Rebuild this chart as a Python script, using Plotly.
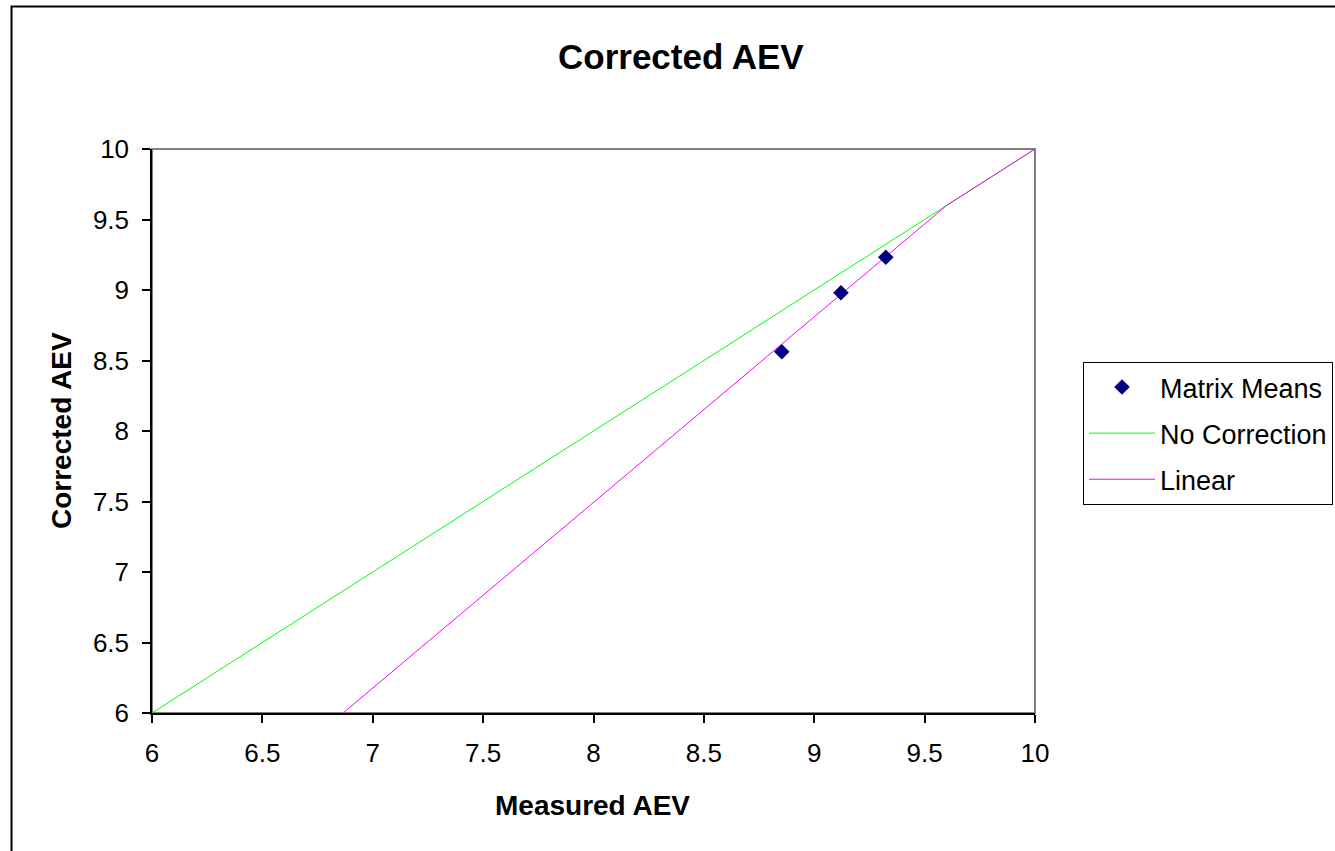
import plotly.graph_objects as go

# Data
means_x = [8.853, 9.121, 9.324]
means_y = [8.562, 8.981, 9.232]
nocorr_x = [6, 10]
nocorr_y = [6, 10]
linear_x = [6.82, 9.6, 10]
linear_y = [5.94, 9.6, 10]
tick_vals = [6, 6.5, 7, 7.5, 8, 8.5, 9, 9.5, 10]
tick_text = ["6", "6.5", "7", "7.5", "8", "8.5", "9", "9.5", "10"]

W, H = 1335, 851
px0, px1 = 152, 1035
py0, py1 = 149, 713

fig = go.Figure()
fig.add_trace(go.Scatter(x=nocorr_x, y=nocorr_y, mode="lines", name="No Correction",
                         line=dict(color="#00FF00", width=1), legendrank=2,
                         legendgroup="b"))
fig.add_trace(go.Scatter(x=linear_x, y=linear_y, mode="lines", name="Linear",
                         line=dict(color="#FF00FF", width=1), legendrank=3,
                         legendgroup="c"))
fig.add_trace(go.Scatter(x=means_x, y=means_y, mode="markers", name="Matrix Means",
                         marker=dict(symbol="diamond", color="#000080", size=12),
                         legendrank=1, legendgroup="a"))

font_family = "Liberation Sans, Arial, sans-serif"
axis_common = dict(
    range=[6, 10], tickvals=tick_vals, ticktext=tick_text,
    showgrid=False, zeroline=False, showline=True, linecolor="black", linewidth=1.5,
    ticks="outside", ticklen=8, tickcolor="black", tickwidth=1.5, automargin=False,
    tickfont=dict(family=font_family, size=26, color="black"),
)
fig.update_layout(
    width=W, height=H, autosize=False,
    margin=dict(l=0, r=0, t=0, b=0, pad=0, autoexpand=False),
    paper_bgcolor="white", plot_bgcolor="white",
    font=dict(family=font_family, color="black"),
    xaxis=dict(domain=[px0 / W, px1 / W], ticklabelstandoff=8, **axis_common),
    yaxis=dict(domain=[1 - py1 / H, 1 - py0 / H], ticklabelstandoff=8, **axis_common),
    showlegend=True,
    legend=dict(x=1083 / W, y=1 - 362 / H, xanchor="left", yanchor="top",
                bgcolor="white", bordercolor="black", borderwidth=1,
                font=dict(family=font_family, size=27, color="black"),
                itemwidth=66, tracegroupgap=8, entrywidth=200),
    shapes=[
        dict(type="rect", xref="x domain", yref="y domain", x0=0, x1=1, y0=0, y1=1,
             line=dict(color="#808080", width=2), layer="below"),
        dict(type="rect", xref="paper", yref="paper", x0=11.5 / W, x1=1351 / W,
             y0=-5 / H, y1=1 - 6.5 / H, line=dict(color="black", width=2)),
    ],
    annotations=[
        dict(text="<b>Corrected AEV</b>", x=681 / W, y=1 - 57 / H, xref="paper", yref="paper",
             showarrow=False, font=dict(size=35, family=font_family), xanchor="center", yanchor="middle"),
        dict(text="<b>Measured AEV</b>", x=592 / W, y=1 - 805 / H, xref="paper", yref="paper",
             showarrow=False, font=dict(size=28, family=font_family), xanchor="center", yanchor="middle"),
        dict(text="<b>Corrected AEV</b>", x=61 / W, y=1 - 431 / H, xref="paper", yref="paper",
             showarrow=False, textangle=-90, font=dict(size=28, family=font_family),
             xanchor="center", yanchor="middle"),
    ],
)

fig.write_html("out.html")
